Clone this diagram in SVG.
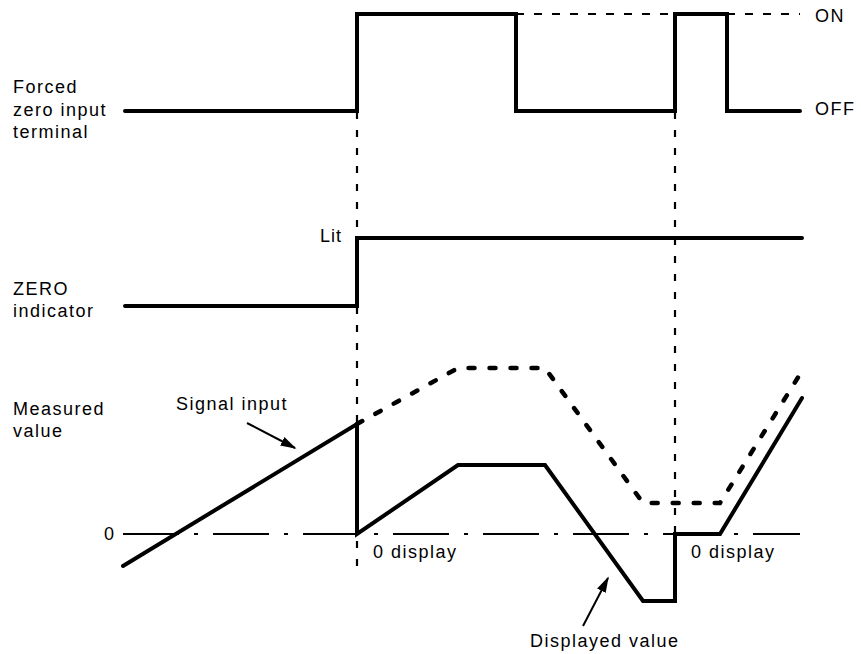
<svg xmlns="http://www.w3.org/2000/svg" width="861" height="654" viewBox="0 0 861 654">
<style>
text{font-family:"Liberation Sans",Arial,sans-serif;font-size:18px;letter-spacing:1.5px;fill:#000}
.thick{fill:none;stroke:#000;stroke-width:4;stroke-linejoin:miter;stroke-linecap:round}
.vdash{fill:none;stroke:#000;stroke-width:2.2;stroke-dasharray:7 11}
.hdash{fill:none;stroke:#000;stroke-width:2.2;stroke-dasharray:8 10}
.tdash{fill:none;stroke:#000;stroke-width:4.5;stroke-linecap:round;stroke-dasharray:6 15}
.zero{fill:none;stroke:#000;stroke-width:2;stroke-dasharray:56 15 4 15}
.ptr{fill:none;stroke:#000;stroke-width:2}
</style>
<defs>
<marker id="ah" viewBox="0 0 10 10" refX="9" refY="5" markerWidth="8" markerHeight="8" orient="auto" markerUnits="strokeWidth"><path d="M0,2 L10,5 L0,8 z" fill="#000"/></marker>
</defs>
<g id="connectors">
<line class="vdash" x1="357" y1="112" x2="357" y2="238"/>
<line class="vdash" x1="357" y1="307" x2="357" y2="570"/>
<line class="vdash" x1="675" y1="112" x2="675" y2="534"/>
<line class="hdash" x1="516" y1="14" x2="675" y2="14"/>
<line class="hdash" x1="727" y1="14" x2="800" y2="14"/>
<line class="zero" x1="123" y1="534" x2="800" y2="534"/>
<line class="ptr" x1="247" y1="423" x2="295" y2="448" marker-end="url(#ah)"/>
<line class="ptr" x1="583" y1="626" x2="608" y2="578" marker-end="url(#ah)"/>
</g>
<g id="forced-zero">
<text x="13" y="93">Forced</text>
<text x="13" y="116">zero input</text>
<text x="13" y="138">terminal</text>
<polyline class="thick" points="125,111 357,111 357,14 516,14 516,111 675,111 675,14 727,14 727,111 800,111"/>
<text x="815" y="22">ON</text>
<text x="815" y="115">OFF</text>
</g>
<g id="zero-indicator">
<text x="13" y="295">ZERO</text>
<text x="13" y="317">indicator</text>
<polyline class="thick" points="125,306 357,306 357,238 802,238"/>
<text x="342" y="242" text-anchor="end" style="letter-spacing:1px">Lit</text>
</g>
<g id="measured-value">
<text x="13" y="415">Measured</text>
<text x="13" y="437">value</text>
<text x="104" y="540">0</text>
<polyline class="tdash" points="357,424 458,368 545,368 643,503 720,503 802,371"/>
<polyline class="thick" points="123,566 357,424 357,534 458,465 545,465 643,601 675,601 675,534 720,534 802,398"/>
<text x="176" y="410">Signal input</text>
<text x="373" y="558">0 display</text>
<text x="691" y="558">0 display</text>
<text x="530" y="647">Displayed value</text>
</g>
</svg>
